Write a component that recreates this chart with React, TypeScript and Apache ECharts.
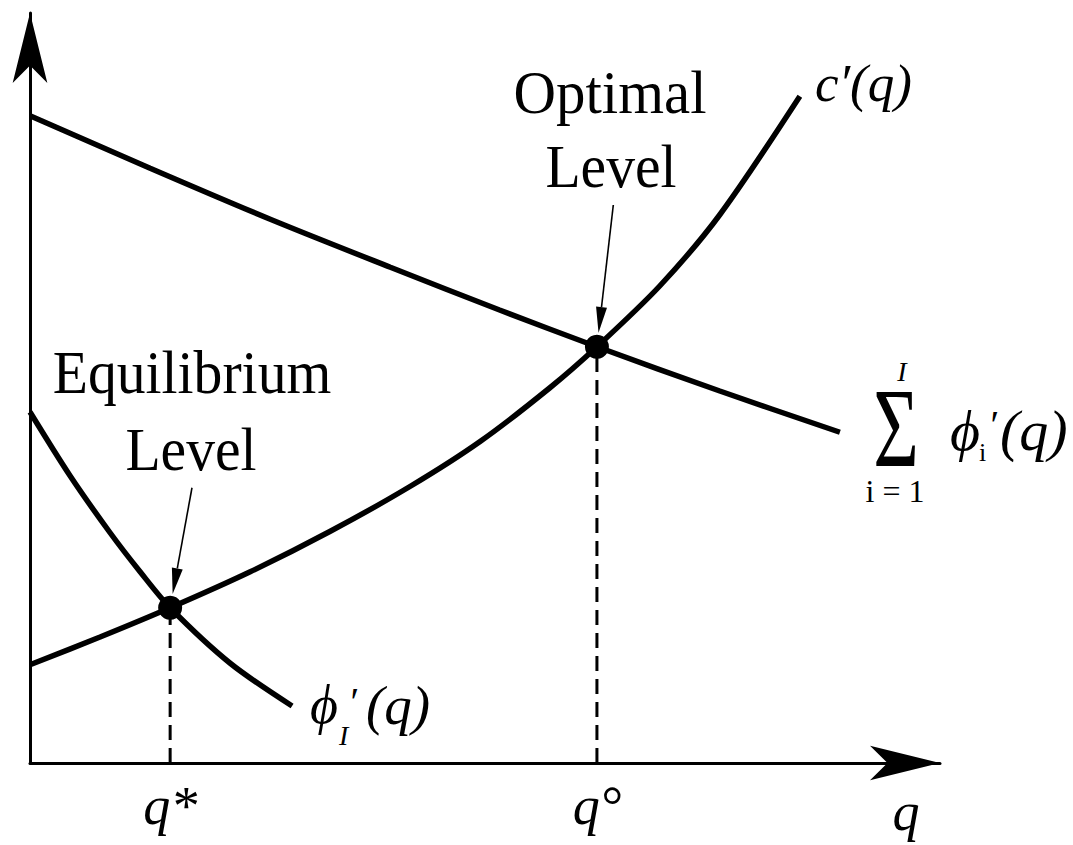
import React, { useEffect, useRef } from "react";
import * as echarts from "echarts";

// Axis extents (q along x, marginal value along y)
const Q_MAX = 10;
const V_MAX = 10;

// Σ φ'_i(q): aggregate marginal benefit
const aggregateBenefit: [number, number][] = [
  [0, 8.63], [1.32, 7.93], [2.64, 7.25], [3.96, 6.61], [5.16, 6.04],
  [6.23, 5.55], [7.58, 4.96], [8.9, 4.41],
];

// c'(q): marginal cost
const marginalCost: [number, number][] = [
  [0, 1.31], [0.77, 1.68], [1.54, 2.07], [2.42, 2.55], [3.3, 3.09],
  [4.18, 3.69], [4.95, 4.29], [5.71, 5.0], [6.23, 5.55], [6.92, 6.36],
  [7.58, 7.31], [8.46, 8.89],
];

// φ'_I(q): one agent's marginal benefit
const privateBenefit: [number, number][] = [
  [0, 4.68], [0.44, 3.83], [0.88, 3.07], [1.21, 2.55], [1.54, 2.07],
  [2.2, 1.33], [2.88, 0.76],
];

const equilibriumPoint: [number, number] = [1.54, 2.07];
const optimalPoint: [number, number] = [6.23, 5.55];

// where the pointer lines for the two callouts begin
const equilibriumPointerStart: [number, number] = [1.78, 3.67];
const optimalPointerStart: [number, number] = [6.41, 7.44];

const tickNames = ["q*", "q°"];

const SERIF = '"Liberation Serif", "Times New Roman", serif';

function txt(
  text: string,
  x: number,
  y: number,
  size: number,
  opts: { italic?: boolean; align?: string; scaleX?: number; lineHeight?: number } = {}
) {
  return {
    type: "text",
    x,
    y,
    scaleX: opts.scaleX ?? 1,
    silent: true,
    z: 10,
    style: {
      text,
      fill: "#000",
      fontFamily: SERIF,
      fontSize: size,
      fontStyle: opts.italic ? "italic" : "normal",
      align: opts.align ?? "left",
      verticalAlign: "middle",
      ...(opts.lineHeight ? { lineHeight: opts.lineHeight } : {}),
    },
  };
}

function pointer(from: number[], dot: number[]) {
  const gap = 14;
  const headLen = 26;
  const headHalf = 5.5;
  const dx = dot[0] - from[0];
  const dy = dot[1] - from[1];
  const len = Math.hypot(dx, dy);
  const ux = dx / len;
  const uy = dy / len;
  const tip = [dot[0] - ux * gap, dot[1] - uy * gap];
  const base = [tip[0] - ux * headLen, tip[1] - uy * headLen];
  const nx = -uy;
  const ny = ux;
  return [
    {
      type: "line",
      silent: true,
      z: 10,
      shape: { x1: from[0], y1: from[1], x2: base[0], y2: base[1] },
      style: { stroke: "#000", lineWidth: 1.6 },
    },
    {
      type: "polygon",
      silent: true,
      z: 10,
      shape: {
        points: [
          tip,
          [base[0] + nx * headHalf, base[1] + ny * headHalf],
          [base[0] - nx * headHalf, base[1] - ny * headHalf],
        ],
      },
      style: { fill: "#000" },
    },
  ];
}

const curveStyle = { color: "#000", width: 5.5 };
const dropStyle = { color: "#000", width: 3, type: [15, 8] as number[] };

function curve(data: [number, number][]) {
  return {
    type: "line",
    data,
    smooth: 0.3,
    symbol: "none",
    lineStyle: curveStyle,
    silent: true,
    z: 2,
  };
}

function dropLine(p: [number, number]) {
  return {
    type: "line",
    data: [[p[0], 0], p],
    symbol: "none",
    lineStyle: dropStyle,
    silent: true,
    z: 1,
  };
}

export default function App() {
  const ref = useRef<HTMLDivElement>(null);

  useEffect(() => {
    if (!ref.current) return;
    const chart = echarts.init(ref.current, undefined, { renderer: "svg" });

    const axisArrow = {
      show: true,
      symbol: ["none", "arrow"],
      symbolSize: [26, 70],
      lineStyle: { color: "#000", width: 3 },
    };

    chart.setOption({
      animation: false,
      backgroundColor: "#fff",
      grid: { left: 30, right: 133, top: 13, bottom: 82, containLabel: false },
      xAxis: {
        type: "value",
        min: 0,
        max: Q_MAX,
        axisLine: axisArrow,
        axisTick: { show: false },
        axisLabel: { show: false },
        splitLine: { show: false },
      },
      yAxis: {
        type: "value",
        min: 0,
        max: V_MAX,
        axisLine: axisArrow,
        axisTick: { show: false },
        axisLabel: { show: false },
        splitLine: { show: false },
      },
      series: [
        dropLine(equilibriumPoint),
        dropLine(optimalPoint),
        curve(aggregateBenefit),
        curve(marginalCost),
        curve(privateBenefit),
        {
          type: "scatter",
          data: [equilibriumPoint, optimalPoint],
          symbol: "circle",
          symbolSize: 24,
          itemStyle: { color: "#000", opacity: 1 },
          silent: true,
          z: 3,
        },
        {
          type: "scatter",
          data: [
            { name: tickNames[0], value: [equilibriumPoint[0], 0] },
            { name: tickNames[1], value: [optimalPoint[0], 0] },
          ],
          symbolSize: 0,
          itemStyle: { color: "#000", opacity: 1 },
          silent: true,
          z: 3,
          label: {
            show: true,
            position: "inside",
            offset: [0, 43],
            formatter: "{b}",
            color: "#000",
            opacity: 1,
            fontFamily: SERIF,
            fontStyle: "italic",
            fontSize: 54,
          },
        },
      ],
    });

    const px = (p: number[]) =>
      chart.convertToPixel({ gridIndex: 0 }, p) as unknown as number[];

    chart.setOption({
      graphic: [
        txt("Optimal", 610, 92, 62, { align: "center", scaleX: 0.95 }),
        txt("Level", 611, 166, 62, { align: "center", scaleX: 0.93 }),
        txt("Equilibrium", 192, 372, 62, { align: "center", scaleX: 0.93 }),
        txt("Level", 191, 449, 62, { align: "center", scaleX: 0.93 }),
        txt("c′(q)", 815, 83, 53, { italic: true }),
        // Σ_{i=1}^{I} φ'_i(q)
        txt("I", 902, 371, 28, { italic: true, align: "center", lineHeight: 22 }),
        txt("Σ", 896, 428, 112, { align: "center", scaleX: 0.7, lineHeight: 80 }),
        txt("i = 1", 895, 491, 32, { align: "center", lineHeight: 24 }),
        txt("ϕ", 950, 430, 58, { italic: true, lineHeight: 50 }),
        txt("i", 979, 452, 26, { lineHeight: 18 }),
        txt("′", 988, 424, 40, { italic: true, lineHeight: 14 }),
        txt("(q)", 1000, 430, 58, { italic: true, lineHeight: 50 }),
        // φ'_I(q)
        txt("ϕ", 310, 705, 54, { italic: true, lineHeight: 48 }),
        txt("I", 339, 735, 28, { italic: true, lineHeight: 18 }),
        txt("′", 348, 701, 40, { italic: true, lineHeight: 14 }),
        txt("(q)", 366, 705, 55, { italic: true, lineHeight: 48 }),
        // horizontal axis name
        txt("q", 906, 812, 54, { italic: true, align: "center" }),
        ...pointer(px(optimalPointerStart), px(optimalPoint)),
        ...pointer(px(equilibriumPointerStart), px(equilibriumPoint)),
      ],
    });

    return () => chart.dispose();
  }, []);

  return (
    <div
      ref={ref}
      style={{
        position: "absolute",
        left: 0,
        top: 0,
        width: 1073,
        height: 845,
        background: "#fff",
      }}
    />
  );
}
